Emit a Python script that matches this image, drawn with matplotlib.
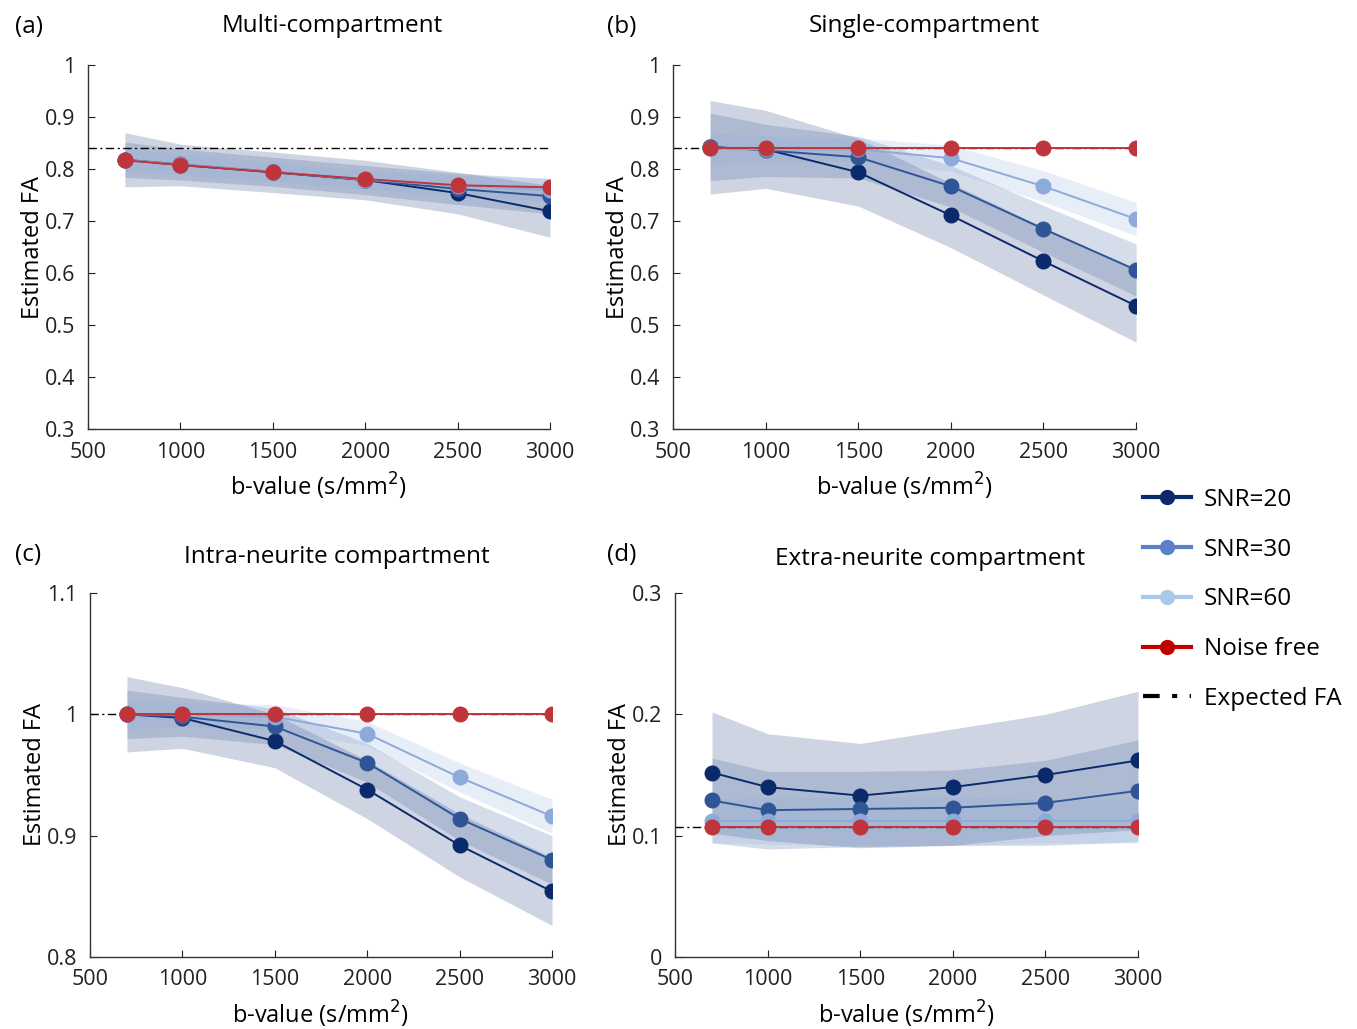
import matplotlib.pyplot as plt
import numpy as np
from matplotlib.lines import Line2D

plt.rcParams['font.family'] = ['Open Sans', 'DejaVu Sans']

bvals = [700, 1000, 1500, 2000, 2500, 3000]

# (a) multi-compartment
a_snr20 = [0.818, 0.808, 0.794, 0.779, 0.754, 0.719]
a_snr20_sd = [0.052, 0.040, 0.039, 0.038, 0.040, 0.050]
a_snr30 = [0.818, 0.809, 0.795, 0.779, 0.762, 0.748]
a_snr30_sd = [0.034, 0.030, 0.028, 0.028, 0.030, 0.034]
a_snr60 = [0.818, 0.809, 0.795, 0.780, 0.768, 0.760]
a_snr60_sd = [0.022, 0.020, 0.018, 0.018, 0.020, 0.022]
a_noise = [0.817, 0.808, 0.794, 0.781, 0.769, 0.765]
a_expected = 0.84

# (b) single-compartment
b_snr20 = [0.842, 0.838, 0.794, 0.711, 0.623, 0.537]
b_snr20_sd = [0.090, 0.075, 0.065, 0.062, 0.065, 0.070]
b_snr30 = [0.843, 0.836, 0.823, 0.767, 0.685, 0.606]
b_snr30_sd = [0.065, 0.050, 0.040, 0.040, 0.045, 0.050]
b_snr60 = [0.840, 0.838, 0.838, 0.821, 0.767, 0.704]
b_snr60_sd = [0.030, 0.025, 0.022, 0.025, 0.030, 0.032]
b_noise = [0.840, 0.840, 0.840, 0.840, 0.840, 0.840]
b_expected = 0.84

# (c) intra-neurite
c_snr20 = [1.000, 0.997, 0.978, 0.938, 0.892, 0.854]
c_snr20_sd = [0.031, 0.025, 0.022, 0.024, 0.026, 0.028]
c_snr30 = [1.000, 0.998, 0.990, 0.960, 0.914, 0.880]
c_snr30_sd = [0.020, 0.016, 0.015, 0.016, 0.018, 0.020]
c_snr60 = [1.000, 1.000, 0.998, 0.984, 0.948, 0.916]
c_snr60_sd = [0.012, 0.010, 0.010, 0.010, 0.012, 0.014]
c_noise = [1.0, 1.0, 1.0, 1.0, 1.0, 1.0]
c_expected = 1.0

# (d) extra-neurite
d_snr20 = [0.152, 0.140, 0.133, 0.140, 0.150, 0.162]
d_snr20_sd = [0.050, 0.044, 0.043, 0.048, 0.050, 0.057]
d_snr30 = [0.129, 0.121, 0.122, 0.123, 0.127, 0.137]
d_snr30_sd = [0.035, 0.032, 0.031, 0.031, 0.035, 0.042]
d_snr60 = [0.112, 0.112, 0.112, 0.112, 0.112, 0.112]
d_snr60_sd = [0.018, 0.019, 0.020, 0.020, 0.018, 0.018]
d_noise = [0.107, 0.107, 0.107, 0.107, 0.107, 0.107]
d_expected = 0.107

c20, c30, c60, cnf = '#0b2a6b', '#2f5597', '#8eaadb', '#c0343b'

fig = plt.figure(figsize=(13.57, 10.29), dpi=100)

panels = [
    ([0.0648, 0.583, 0.3405, 0.3537], a_snr20, a_snr20_sd, a_snr30, a_snr30_sd, a_snr60, a_snr60_sd, a_noise, a_expected,
     (0.3, 1.0), [0.3, 0.4, 0.5, 0.6, 0.7, 0.8, 0.9, 1.0]),
    ([0.4960, 0.583, 0.3412, 0.3537], b_snr20, b_snr20_sd, b_snr30, b_snr30_sd, b_snr60, b_snr60_sd, b_noise, b_expected,
     (0.3, 1.0), [0.3, 0.4, 0.5, 0.6, 0.7, 0.8, 0.9, 1.0]),
    ([0.0663, 0.070, 0.3405, 0.3537], c_snr20, c_snr20_sd, c_snr30, c_snr30_sd, c_snr60, c_snr60_sd, c_noise, c_expected,
     (0.8, 1.1), [0.8, 0.9, 1.0, 1.1]),
    ([0.4974, 0.070, 0.3412, 0.3537], d_snr20, d_snr20_sd, d_snr30, d_snr30_sd, d_snr60, d_snr60_sd, d_noise, d_expected,
     (0.0, 0.3), [0.0, 0.1, 0.2, 0.3]),
]

def fmt(v):
    s = '%g' % round(v, 2)
    return s

for pos, s20, sd20, s30, sd30, s60, sd60, nf, exp, ylim, yt in panels:
    ax = fig.add_axes(pos)
    x = np.array(bvals)
    for m, sd, col in [(s20, sd20, c20), (s30, sd30, c30), (s60, sd60, c60)]:
        m = np.array(m)
        sd = np.array(sd)
        ax.fill_between(x, m - sd, m + sd, color=col, alpha=0.2, linewidth=0, zorder=1)
    ax.axhline(exp, color='black', linestyle=(0, (6, 2.5, 1.5, 2.5)), linewidth=1.0, zorder=2)
    ax.plot(x, s20, 'o-', color=c20, lw=1.4, ms=10.5, zorder=3)
    ax.plot(x, s30, 'o-', color=c30, lw=1.4, ms=10.5, zorder=4)
    ax.plot(x, s60, 'o-', color=c60, lw=1.4, ms=10.5, zorder=5)
    ax.plot(x, nf, 'o-', color=cnf, lw=1.4, ms=10.5, zorder=6)
    ax.set_xlim(500, 3000)
    ax.set_ylim(*ylim)
    ax.set_xticks([500, 1000, 1500, 2000, 2500, 3000])
    ax.set_yticks(yt)
    ax.set_yticklabels([fmt(v) for v in yt])
    for sp in ['top', 'right']:
        ax.spines[sp].set_visible(False)
    for sp in ['left', 'bottom']:
        ax.spines[sp].set_color('#333333')
        ax.spines[sp].set_linewidth(1.0)
    ax.tick_params(direction='in', length=5, labelsize=15.5, colors='#222222', pad=9)
    ax.set_xlabel('b-value (s/mm$^2$)', fontsize=17, labelpad=6)
    ax.set_ylabel('Estimated FA', fontsize=17, labelpad=0)
    ax.patch.set_alpha(0)

titles = [('Multi-compartment', 332, 26), ('Single-compartment', 924, 26),
          ('Intra-neurite compartment', 337, 557), ('Extra-neurite compartment', 930, 559)]
for t, px, py in titles:
    fig.text(px / 1357, 1 - py / 1029, t, ha='center', va='center', fontsize=17.5)

letters = [('(a)', 15, 27), ('(b)', 607, 27), ('(c)', 15, 555), ('(d)', 607, 555)]
for t, px, py in letters:
    fig.text(px / 1357, 1 - py / 1029, t, ha='left', va='center', fontsize=17.5)

handles = [
    Line2D([], [], color='#0b2a6e', marker='o', ms=10, lw=3, label='SNR=20'),
    Line2D([], [], color='#5b80c8', marker='o', ms=10, lw=3, label='SNR=30'),
    Line2D([], [], color='#a9c9ea', marker='o', ms=10, lw=3, label='SNR=60'),
    Line2D([], [], color='#c00000', marker='o', ms=10, lw=3, label='Noise free'),
    Line2D([], [], color='black', linestyle=(0, (4, 3, 1.2, 3, 1.2, 3)), lw=3, label='Expected FA'),
]
fig.legend(handles=handles, loc='upper left', bbox_to_anchor=(1121 / 1357, 1 - 466 / 1029),
           frameon=False, fontsize=17.5, handlelength=2.0, handletextpad=0.5, labelspacing=1.06)

fig.savefig('out.png', dpi=100)
